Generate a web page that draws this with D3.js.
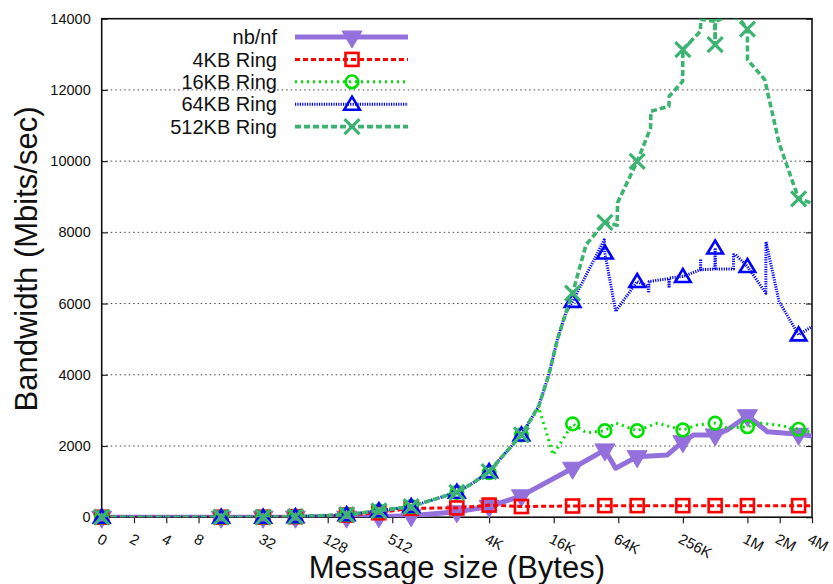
<!DOCTYPE html>
<html>
<head>
<meta charset="utf-8">
<script src="https://cdn.jsdelivr.net/npm/d3@7"></script>
<style>
  html, body { margin: 0; padding: 0; background: #fff; }
  svg { display: block; font-family: "Liberation Sans", Arial, Helvetica, sans-serif; }
</style>
</head>
<body>
<svg id="chart" width="833" height="584"></svg>
<script>
// ---- axis ticks ----
const xTickSizes  = [1, 2, 4, 8, 32, 128, 512, 4096, 16384, 65536, 262144, 1048576, 2097152, 4194304];
const xTickLabels = ["0", "2", "4", "8", "32", "128", "512", "4K", "16K", "64K", "256K", "1M", "2M", "4M"];
const yTickValues = [0, 2000, 4000, 6000, 8000, 10000, 12000, 14000];

// ---- series ----
const seriesNames = ["nb/nf", "4KB Ring", "16KB Ring", "64KB Ring", "512KB Ring"];

// message sizes (bytes) where the point symbols sit
const markerSizes = [1, 13, 32, 64, 192, 384, 768, 2048, 4096, 8192, 24576, 49152, 98304, 262144, 524288, 1048576, 3145728];

// bandwidth (Mbits/sec) at the marker sizes
const nbnfMarks   = [0, 0, 0, 0, 0, 10, 40, 150, 300, 600, 1375, 1890, 1700, 2120, 2310, 2850, 2330];
const ring4Marks  = [0, 0, 0, 15, 60, 125, 250, 260, 340, 300, 315, 325, 325, 325, 325, 325, 325];
const ring16Marks = [0, 0, 0, 15, 70, 180, 300, 700, 1250, 2310, 2620, 2430, 2430, 2450, 2640, 2540, 2470];
const ring64Marks = [0, 0, 0, 15, 70, 180, 300, 700, 1280, 2310, 6060, 7420, 6620, 6760, 7560, 7040, 5120];
const ring512Marks= [0, 0, 0, 15, 70, 180, 300, 700, 1280, 2310, 6290, 8280, 9990, 13130, 13270, 13710, 8940];

// full measurement traces [size, Mbits/sec] drawn as lines
const nbnfLine = [[1,0],[13,0],[32,0],[64,0],[192,0],[384,10],[768,40],[2048,150],[4096,300],[8192,600],
  [24576,1375],[49152,1890],[62000,1375],[98304,1700],[188000,1750],[262144,2120],[331800,2310],
  [524288,2310],[680000,2450],[1048576,2850],[1612000,2400],[3145728,2330],[4194304,2280]];

const ring4Line = [[1,0],[13,0],[32,0],[64,15],[192,60],[384,125],[768,250],[2048,260],[4096,340],[8192,300],
  [24576,315],[49152,325],[98304,325],[262144,325],[524288,325],[1048576,325],[3145728,325],[4194304,320]];

const ring16Line = [[1,0],[13,0],[32,0],[64,15],[192,70],[384,180],[768,300],[2048,700],[2860,950],[4096,1280],
  [5600,1750],[8192,2310],[11900,3070],[16200,1750],[24576,2620],[33000,2370],[49152,2430],[62000,2650],
  [76800,2540],[98304,2430],[151600,2640],[201000,2540],[262144,2450],[357000,2590],[524288,2640],
  [680000,2500],[1048576,2540],[1394000,2640],[1995000,2590],[3145728,2470],[4194304,2375]];

const ring64Line = [[1,0],[13,0],[32,0],[64,15],[192,70],[384,180],[768,300],[2048,700],[2860,950],[4096,1280],
  [5600,1750],[8192,2310],[11900,3125],[14750,4000],[17700,4980],[21200,5730],[24576,6060],[48500,7790],
  [49152,7420],[62000,5780],[98304,6620],[125000,6480],[126000,6300],[127000,6620],[194000,6700],
  [195000,6440],[196000,6720],[262144,6760],[383000,6950],[384000,7250],[385000,6950],[520000,6970],
  [524288,7560],[528000,6970],[777000,6970],[778000,7370],[817000,7370],[1048576,7040],[1557000,6290],
  [1560000,7740],[2068000,6060],[3145728,5120],[4194304,5355]];

const ring512Line = [[1,0],[13,0],[32,0],[64,15],[192,70],[384,180],[768,300],[2048,700],[2860,950],[4096,1280],
  [5600,1750],[8192,2310],[11900,3125],[14750,4000],[17700,4980],[21200,5730],[24576,6290],[32768,7650],
  [49152,8280],[64000,8200],[64500,8830],[98304,9990],[131072,10930],[132000,11400],[194500,11540],
  [195500,11820],[261000,12240],[262144,13130],[383000,13650],[384000,13980],[520000,13930],[524288,13270],
  [528000,13930],[732000,14100],[908000,13950],[1048576,13710],[1050000,12850],[1520000,12290],
  [2068000,10510],[3145728,8940],[4194304,8820]];

const seriesMarks = [nbnfMarks, ring4Marks, ring16Marks, ring64Marks, ring512Marks];
const seriesLines = [nbnfLine, ring4Line, ring16Line, ring64Line, ring512Line];

// ---- styles ----
const styles = [
  { color: "#9370db", width: 5,   dash: null,      marker: "triDownFilled" },
  { color: "#ff0000", width: 3,   dash: "5,3",     marker: "square" },
  { color: "#00e000", width: 3,   dash: "2,4",     marker: "circle" },
  { color: "#0000ff", width: 3,   dash: "1.2,1.2", marker: "triUp" },
  { color: "#3cb371", width: 3.6, dash: "6,3",     marker: "cross" }
];

const svg = d3.select("#chart");
const plot = { left: 101.7, right: 812, top: 18.7, bottom: 517.2 };

const x = d3.scaleLog().base(2).domain([1, 4194304]).range([plot.left, plot.right]);
const y = d3.scaleLinear().domain([0, 14000]).range([plot.bottom, plot.top]);

// clip for the traces
svg.append("defs").append("clipPath").attr("id", "plotClip")
  .append("rect")
  .attr("x", plot.left).attr("y", plot.top)
  .attr("width", plot.right - plot.left).attr("height", plot.bottom - plot.top);

// horizontal dotted grid
svg.append("g").selectAll("line")
  .data(yTickValues.filter(v => v > 0 && v < 14000))
  .join("line")
  .attr("x1", plot.left).attr("x2", plot.right)
  .attr("y1", d => y(d)).attr("y2", d => y(d))
  .attr("stroke", "#444").attr("stroke-width", 1)
  .attr("stroke-dasharray", "1.5,3");

// y axis (left, ticks inside) with labels
const yAxis = d3.axisLeft(y).tickValues(yTickValues).tickSize(-6).tickPadding(11)
  .tickFormat(d => String(d));
const gy = svg.append("g").attr("transform", `translate(${plot.left},0)`).call(yAxis);
gy.select(".domain").remove();
gy.selectAll(".tick line").attr("stroke", "#222").attr("stroke-width", 1.2);
gy.selectAll(".tick text").attr("font-size", 14.5).attr("fill", "#111")
  .attr("font-family", "Liberation Sans, Arial, sans-serif");

// mirrored ticks on the right
const gyr = svg.append("g").attr("transform", `translate(${plot.right},0)`)
  .call(d3.axisRight(y).tickValues(yTickValues).tickSize(-6).tickFormat(""));
gyr.select(".domain").remove();
gyr.selectAll(".tick line").attr("stroke", "#222").attr("stroke-width", 1.2);

// x axis (bottom, ticks outside)
const xAxis = d3.axisBottom(x).tickValues(xTickSizes).tickSize(6)
  .tickFormat((d, i) => xTickLabels[i]);
const gx = svg.append("g").attr("transform", `translate(0,${plot.bottom})`).call(xAxis);
gx.select(".domain").remove();
gx.selectAll(".tick line").attr("stroke", "#222").attr("stroke-width", 1.2);
gx.selectAll(".tick text")
  .attr("font-size", 15).attr("fill", "#111")
  .attr("font-family", "Liberation Sans, Arial, sans-serif")
  .attr("text-anchor", "start")
  .attr("y", 0).attr("dy", 0)
  .attr("transform", "translate(-6,25) rotate(28)");

// plot border
svg.append("rect")
  .attr("x", plot.left).attr("y", plot.top)
  .attr("width", plot.right - plot.left).attr("height", plot.bottom - plot.top)
  .attr("fill", "none").attr("stroke", "#111").attr("stroke-width", 1.6);

// marker shapes
function drawMarker(g, type, color) {
  if (type === "triDownFilled") {
    g.append("path").attr("d", "M-10,-6L10,-6L0,11Z").attr("fill", color).attr("stroke", color)
      .attr("stroke-width", 1);
  } else if (type === "square") {
    g.append("rect").attr("x", -6.5).attr("y", -6.5).attr("width", 13).attr("height", 13)
      .attr("fill", "none").attr("stroke", color).attr("stroke-width", 2.6);
  } else if (type === "circle") {
    g.append("circle").attr("r", 6.3).attr("fill", "none").attr("stroke", color).attr("stroke-width", 2.6);
  } else if (type === "triUp") {
    g.append("path").attr("d", "M0,-7.5L7.8,5.5L-7.8,5.5Z").attr("fill", "none").attr("stroke", color)
      .attr("stroke-width", 2.6).attr("stroke-linejoin", "miter");
  } else if (type === "cross") {
    g.append("path").attr("d", "M-7.5,-7.5L7.5,7.5M-7.5,7.5L7.5,-7.5").attr("fill", "none").attr("stroke", color)
      .attr("stroke-width", 3.2);
  }
}

const line = d3.line().x(d => x(d[0])).y(d => y(d[1]));

// series traces and symbols, drawn in legend order
seriesNames.forEach((name, i) => {
  const st = styles[i];
  const g = svg.append("g").attr("class", "series");
  g.append("path")
    .datum(seriesLines[i])
    .attr("clip-path", "url(#plotClip)")
    .attr("d", line)
    .attr("fill", "none")
    .attr("stroke", st.color)
    .attr("stroke-width", st.width)
    .attr("stroke-dasharray", st.dash)
    .attr("stroke-linejoin", "round");
  const pts = markerSizes.map((s, k) => [s, seriesMarks[i][k]]);
  g.selectAll("g.mk").data(pts).join("g")
    .attr("class", "mk")
    .attr("transform", d => `translate(${x(d[0])},${y(d[1])})`)
    .each(function () { drawMarker(d3.select(this), st.marker, st.color); });
});

// legend
const legend = svg.append("g");
seriesNames.forEach((name, i) => {
  const st = styles[i];
  const ly = 37 + i * 22.4;
  legend.append("text")
    .attr("x", 277).attr("y", ly).attr("dy", "0.36em")
    .attr("text-anchor", "end").attr("font-size", 20).attr("fill", "#111")
    .text(name);
  legend.append("line")
    .attr("x1", 295).attr("x2", 408).attr("y1", ly).attr("y2", ly)
    .attr("stroke", st.color).attr("stroke-width", st.width)
    .attr("stroke-dasharray", st.dash);
  drawMarker(legend.append("g").attr("transform", `translate(352,${ly})`), st.marker, st.color);
});

// axis titles
svg.append("text")
  .attr("x", (plot.left + plot.right) / 2).attr("y", 578)
  .attr("text-anchor", "middle").attr("font-size", 31).attr("fill", "#111")
  .text("Message size (Bytes)");
svg.append("text")
  .attr("transform", "translate(37,259) rotate(-90)")
  .attr("text-anchor", "middle").attr("font-size", 31).attr("fill", "#111")
  .text("Bandwidth (Mbits/sec)");
</script>
</body>
</html>
